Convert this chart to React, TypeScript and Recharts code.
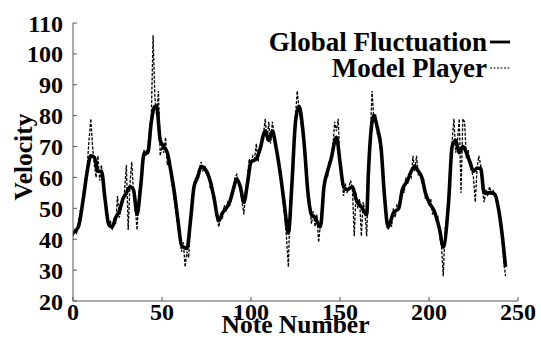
import React from 'react';
import { LineChart, Line, XAxis, YAxis, Legend } from 'recharts';

const FONT = 'Liberation Serif';

// Global fluctuation curve (smooth thick line), read at irregular note positions
const globalNotes = [
  0, 3, 6, 8, 10, 12, 14, 16, 18, 20, 22, 24, 26, 28, 30, 32, 34, 36, 38, 40,
  42, 44, 46, 47, 49, 51, 53, 55, 57, 59, 61, 64, 66, 68, 70, 72, 75, 77, 79, 82,
  84, 86, 88, 90, 92, 94, 96, 98, 100, 103, 105, 108, 110, 112, 114, 117, 119, 121, 123, 125,
  127, 129, 130, 132, 134, 136, 139, 141, 143, 145, 148, 150, 152, 154, 157, 159, 162, 165, 166, 168,
  169, 171, 173, 175, 177, 180, 183, 185, 188, 190, 192, 194, 196, 198, 200, 203, 206, 208, 211, 213,
  215, 217, 219, 221, 223, 225, 227, 229, 231, 233, 235, 237, 239, 241, 243,
];
const globalVelocity = [
  42, 44, 54, 62, 67, 66.5, 62, 62, 53, 45, 44, 47, 49, 53, 55, 57, 56, 48, 57, 68,
  68, 78, 83, 83, 72, 70, 68, 62, 55, 46, 38, 37, 46, 57, 60, 63.5, 62, 59, 54, 46,
  48.5, 50, 52, 56, 59.5, 57, 52, 58, 65, 66, 69, 75, 72, 75, 70, 59, 50, 42, 58, 78,
  83, 76, 70, 55, 48, 47, 44, 57, 62, 66, 73, 65, 57, 56, 57, 53, 50.5, 48, 62, 78,
  80, 76, 70, 54, 44, 48.5, 50, 56, 59, 62, 63.5, 62, 60, 55, 52, 49, 43, 37.5, 52, 70,
  72, 68, 70, 68, 65, 62, 63, 63, 55, 55, 55, 54.5, 50, 42, 31,
];

// Model player velocity, one value per note (index = note number)
const modelVelocity = [
  41, 43, 42, 45, 49, 51, 56, 60, 64, 72,
  79, 70, 64, 60, 67, 59, 64, 56, 52, 47,
  44, 46, 43, 47, 45, 54, 47, 50, 52, 56,
  64, 43, 58, 65, 55, 50, 43, 55, 59, 65,
  69, 67, 70, 75, 80, 106, 86, 80, 88, 67,
  70, 68, 73, 64, 66, 60, 56, 52, 48, 44,
  40, 36, 39, 31, 36, 34, 46, 54, 58, 60,
  61, 63, 65, 62, 64, 61, 62, 57, 58, 53,
  50, 46, 44, 48, 47, 51, 49, 52, 51, 55,
  57, 60, 61, 58, 56, 52, 48, 56, 60, 66,
  64, 67, 66, 71, 65, 70, 73, 74, 79, 72,
  78, 71, 78, 74, 71, 65, 62, 58, 52, 47,
  40, 31, 52, 60, 70, 80, 88, 82, 78, 75,
  69, 62, 54, 50, 45, 49, 44, 48, 39, 45,
  52, 58, 61, 60, 65, 67, 70, 78, 75, 79,
  64, 60, 54, 58, 55, 57, 59, 56, 41, 55,
  50, 53, 41, 52, 49, 41, 60, 72, 88, 79,
  80, 74, 72, 68, 62, 55, 47, 43, 46, 44,
  50, 47, 51, 50, 54, 57, 55, 60, 58, 61,
  60, 67, 62, 67, 61, 62, 58, 59, 53, 54,
  51, 53, 48, 50, 46, 47, 41, 38, 28, 43,
  47, 54, 62, 72, 79, 68, 72, 79, 55, 79,
  78, 66, 69, 64, 62, 60, 52, 63, 67, 64,
  56, 52, 56, 54, 57, 55, 56, 54, 53, 51,
  45, 40, 33, 28,
];

const xTicks = [0, 50, 100, 150, 200, 250];
const yTicks = [20, 30, 40, 50, 60, 70, 80, 90, 100, 110];

const globalData = globalNotes.map((note, i) => ({ note, velocity: globalVelocity[i] }));
const modelData = modelVelocity.map((velocity, note) => ({ note, velocity }));

const tickStyle = { fontFamily: FONT, fontWeight: 'bold', fontSize: 24, fill: '#000' };
const axisColor = '#555';

const VelocityLabel = (props: any) => {
  const vb = props.viewBox || {};
  const cx = vb.x + 23;
  const cy = vb.y + vb.height / 2 - 5;
  return (
    <text
      x={cx}
      y={cy}
      transform={`rotate(-90 ${cx} ${cy})`}
      textAnchor="middle"
      dominantBaseline="central"
      fontFamily={FONT}
      fontWeight="bold"
      fontSize={25.5}
      fill="#000"
    >
      Velocity
    </text>
  );
};

const LegendBox = () => (
  <div style={{ fontFamily: FONT, fontWeight: 'bold', fontSize: 27, lineHeight: '26px', color: '#000' }}>
    <div style={{ display: 'flex', alignItems: 'center', justifyContent: 'flex-end' }}>
      <span>Global Fluctuation</span>
      <svg width={21} height={6} style={{ marginLeft: 3 }}>
        <line x1={0} y1={3} x2={20} y2={3} stroke="#000" strokeWidth={2.8} />
      </svg>
    </div>
    <div style={{ display: 'flex', alignItems: 'center', justifyContent: 'flex-end' }}>
      <span>Model Player</span>
      <svg width={21} height={6} style={{ marginLeft: 3 }}>
        <line x1={0} y1={3} x2={20} y2={3} stroke="#000" strokeWidth={1.2} strokeDasharray="2 1.5" />
      </svg>
    </div>
  </div>
);

export default function App() {
  return (
    <div style={{ position: 'absolute', left: 0, top: 0, background: '#fff', fontFamily: FONT }}>
      <LineChart width={541} height={338} margin={{ top: 23, right: 23, left: 0, bottom: 0 }}>
        <XAxis
          type="number"
          dataKey="note"
          domain={[0, 250]}
          ticks={xTicks}
          interval={0}
          allowDataOverflow
          height={37}
          stroke={axisColor}
          tickSize={-4}
          tickMargin={6}
          tick={tickStyle}
          label={{ value: 'Note Number', position: 'insideBottom', offset: 5, fontFamily: FONT, fontWeight: 'bold', fontSize: 25.5, fill: '#000' }}
        />
        <XAxis
          xAxisId="top"
          orientation="top"
          type="number"
          domain={[0, 250]}
          ticks={xTicks}
          interval={0}
          height={0}
          stroke={axisColor}
          tickSize={-4}
          tick={false}
        />
        <YAxis
          type="number"
          domain={[20, 110]}
          ticks={yTicks}
          interval={0}
          allowDataOverflow
          width={73}
          stroke={axisColor}
          tickSize={-4}
          tickMargin={14}
          tick={tickStyle}
          label={{ value: 'Velocity', content: VelocityLabel }}
        />
        <YAxis
          yAxisId="right"
          orientation="right"
          type="number"
          domain={[20, 110]}
          ticks={yTicks}
          interval={0}
          width={0}
          stroke={axisColor}
          tickSize={-4}
          tick={false}
        />
        <Legend
          layout="vertical"
          align="center"
          verticalAlign="middle"
          wrapperStyle={{ top: 29, right: 30, left: 'auto', width: 'auto' }}
          content={LegendBox}
        />
        <Line
          data={modelData}
          dataKey="velocity"
          type="linear"
          stroke="#000"
          strokeWidth={1.3}
          strokeDasharray="3 1.5"
          dot={false}
          isAnimationActive={false}
        />
        <Line
          data={globalData}
          dataKey="velocity"
          type="monotone"
          stroke="#000"
          strokeWidth={3.6}
          dot={false}
          isAnimationActive={false}
        />
      </LineChart>
    </div>
  );
}
